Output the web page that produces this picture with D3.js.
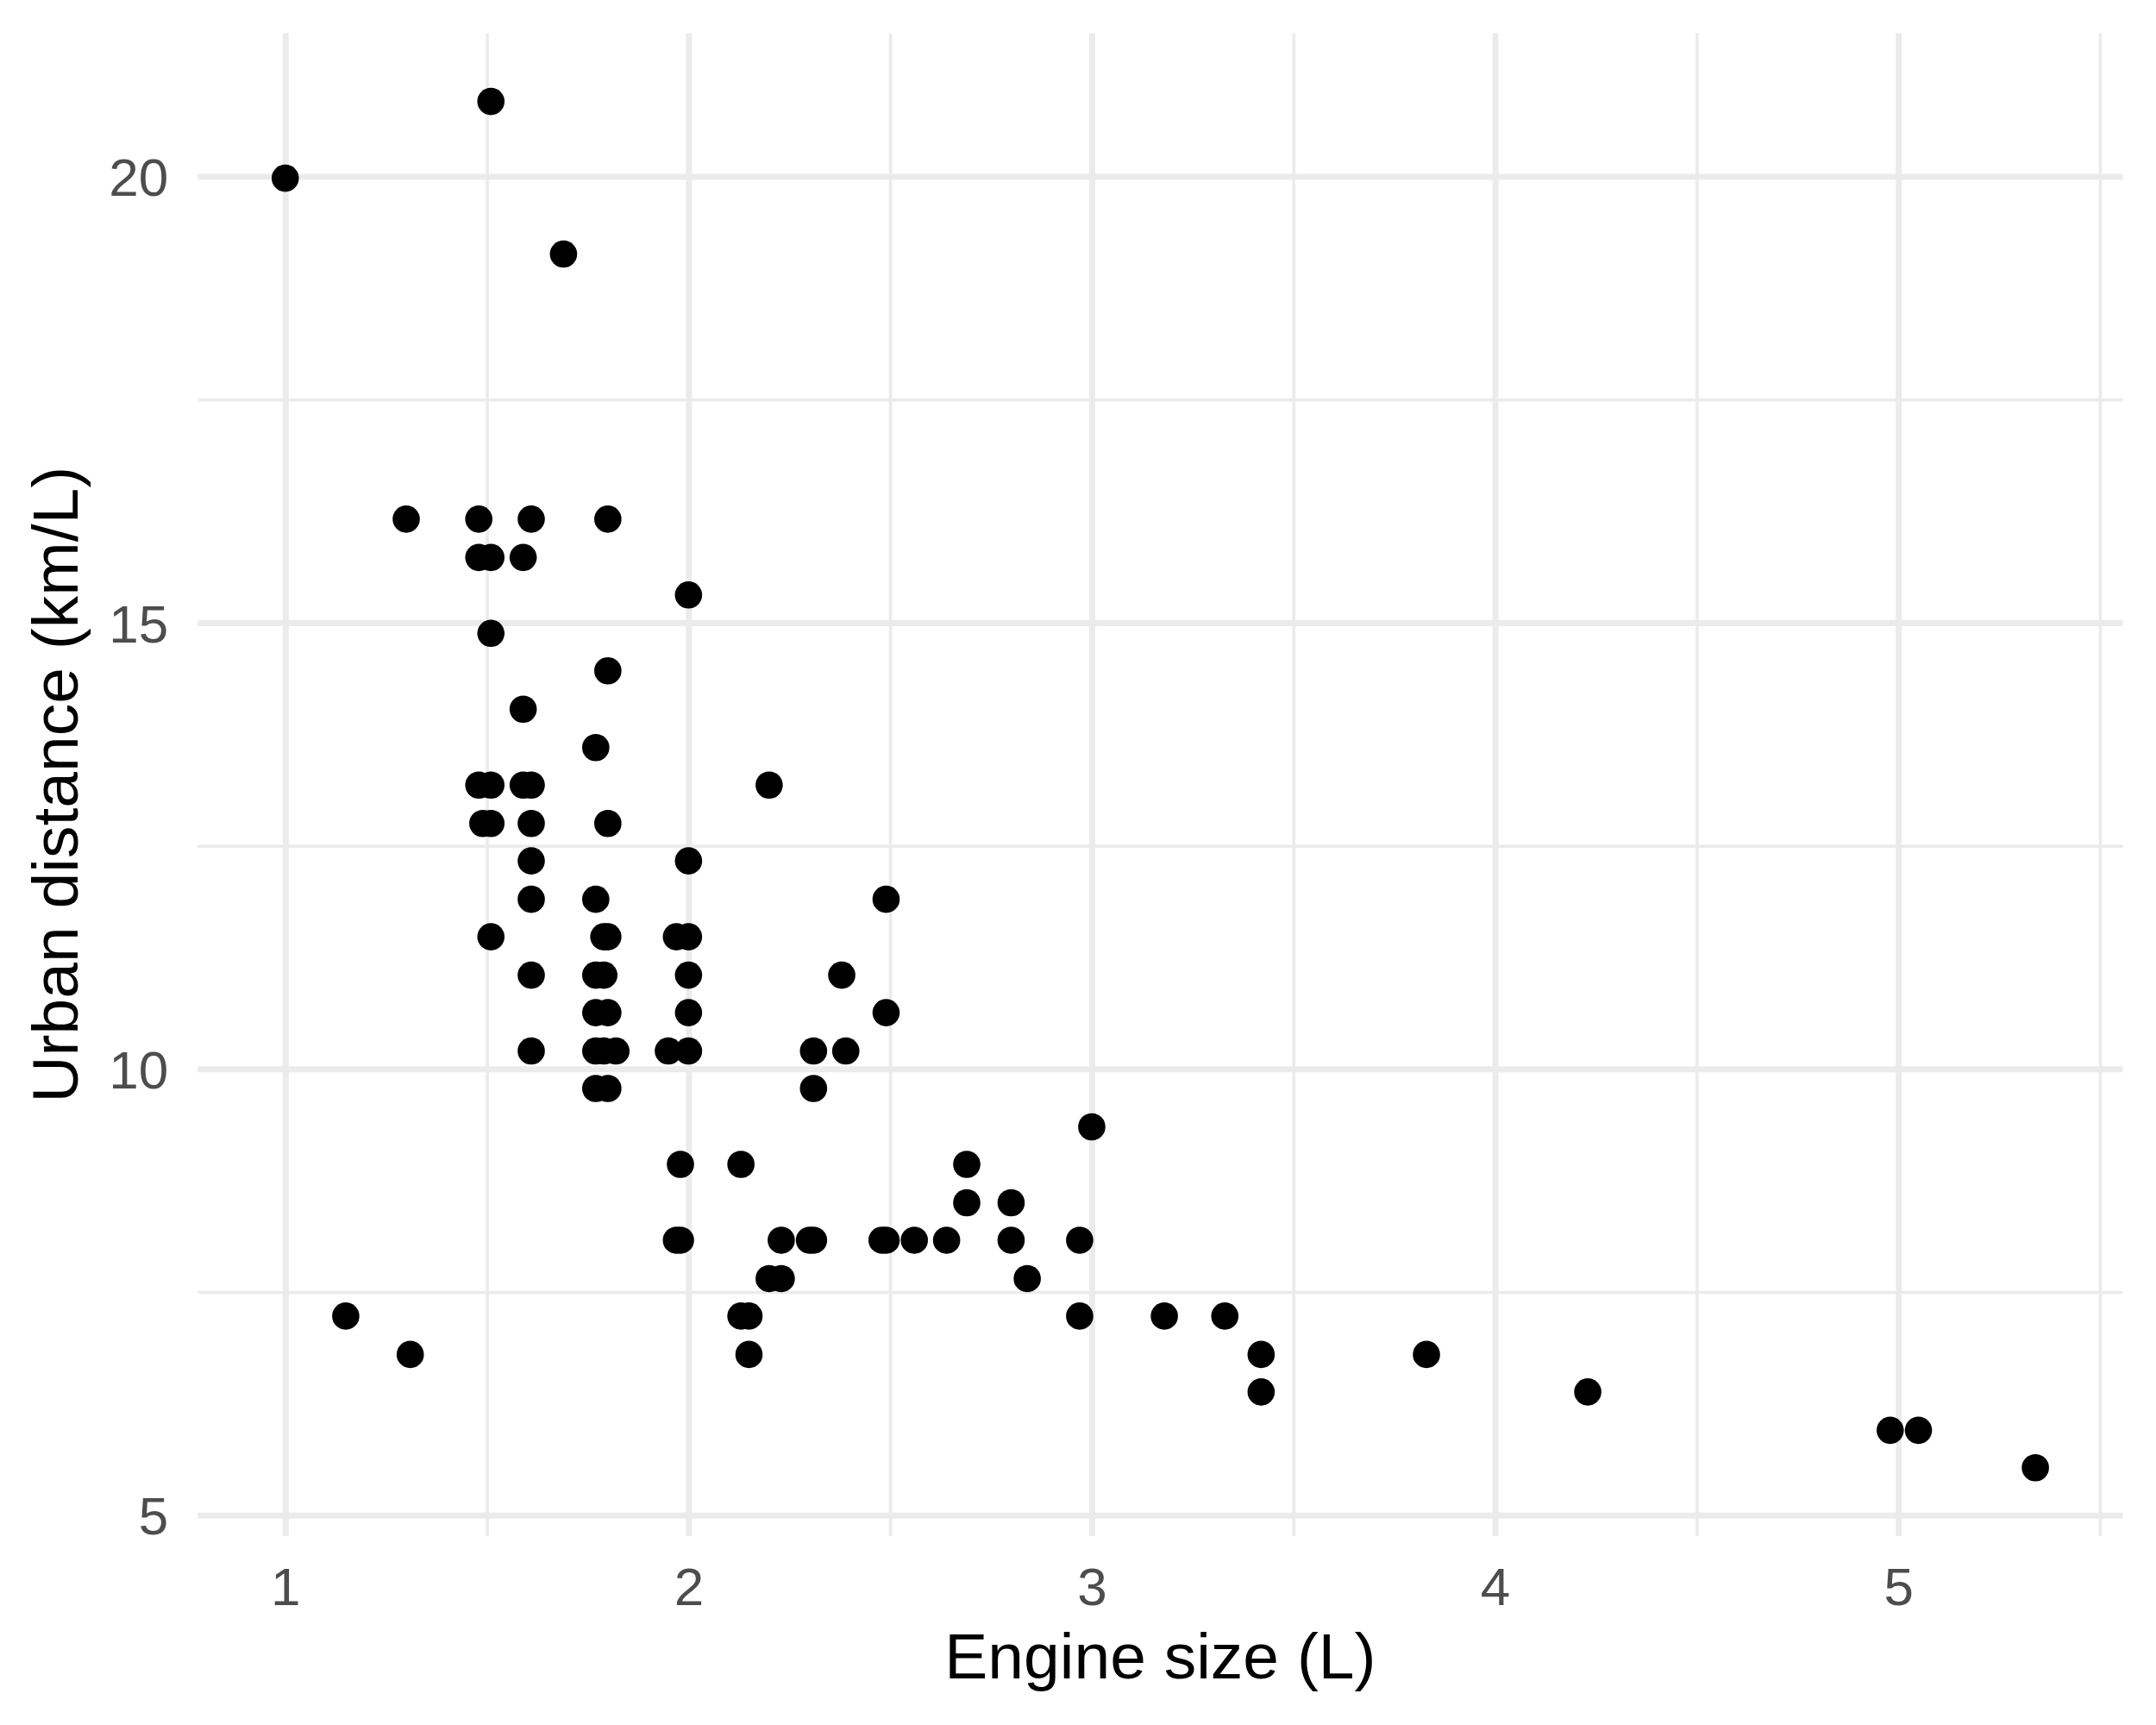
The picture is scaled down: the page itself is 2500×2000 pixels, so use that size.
<!DOCTYPE html>
<html>
<head>
<meta charset="utf-8">
<script src="https://cdn.jsdelivr.net/npm/d3@7"></script>
<style>
  html, body { margin: 0; padding: 0; background: #ffffff; }
  svg { display: block; }
</style>
</head>
<body>
<svg id="chart" width="2500" height="2000"></svg>
<script>
// ---- data ----
const engineSize = [
  1.00, 1.15, 1.30, 1.31,
  1.48, 1.48, 1.51, 1.51, 1.51, 1.48, 1.51, 1.49, 1.51, 1.51,
  1.61, 1.59, 1.59, 1.59, 1.61, 1.61, 1.61, 1.61, 1.61, 1.61,
  1.69,
  1.80, 1.80, 1.77, 1.80, 1.77, 1.79, 1.80, 1.77, 1.79, 1.77, 1.80,
  1.77, 1.79, 1.82, 1.77, 1.80,
  2.00, 2.00, 1.97, 2.00, 2.00, 2.00, 1.95, 2.00, 1.98, 1.97, 1.98,
  2.20, 2.13, 2.23, 2.20, 2.23, 2.13, 2.15, 2.15,
  2.49, 2.38, 2.49, 2.31, 2.39, 2.31, 2.30, 2.31, 2.48, 2.49, 2.56, 2.64,
  2.69, 2.69, 2.80, 2.80, 2.84, 2.97, 2.97, 3.00,
  3.18, 3.33, 3.42, 3.42, 3.83, 4.23, 4.98, 5.05, 5.34
];
const urbanKmL = [
  19.98, 7.23, 16.16, 6.80,
  16.16, 15.73, 15.73, 20.84, 14.88, 13.18, 13.18, 12.75, 12.75, 11.48,
  16.16, 15.73, 14.03, 13.18, 13.18, 12.75, 12.33, 11.90, 11.05, 10.20,
  19.13,
  16.16, 14.46, 13.60, 12.75, 11.90, 11.48, 11.48, 11.05, 11.05, 10.63, 10.63,
  10.20, 10.20, 10.20, 9.78, 9.78,
  15.31, 12.33, 11.48, 11.48, 11.05, 10.63, 10.20, 10.20, 8.93, 8.08, 8.08,
  13.18, 8.93, 8.08, 7.65, 7.65, 7.23, 7.23, 6.80,
  11.90, 11.05, 10.63, 10.20, 10.20, 9.78, 8.08, 8.08, 8.08, 8.08, 8.08, 8.08,
  8.93, 8.50, 8.50, 8.08, 7.65, 8.08, 7.23, 9.35,
  7.23, 7.23, 6.80, 6.38, 6.80, 6.38, 5.95, 5.95, 5.53
];
const xTicks = [1, 2, 3, 4, 5];
const xMinorTicks = [1.5, 2.5, 3.5, 4.5, 5.5];
const yTicks = [5, 10, 15, 20];
const yMinorTicks = [7.5, 12.5, 17.5];
const xTitle = "Engine size (L)";
const yTitle = "Urban distance (km/L)";

// ---- layout ----
const panel = { left: 229.3, right: 2461.6, top: 38.4, bottom: 1781 };
const svg = d3.select("#chart");
svg.append("rect").attr("width", 2500).attr("height", 2000).attr("fill", "#ffffff");

const points = engineSize.map((x, i) => ({ x, y: urbanKmL[i] }));

function expand(ext, f) {
  const pad = (ext[1] - ext[0]) * f;
  return [ext[0] - pad, ext[1] + pad];
}
const x = d3.scaleLinear()
  .domain(expand(d3.extent(engineSize), 0.05))
  .range([panel.left, panel.right]);
const y = d3.scaleLinear()
  .domain(expand(d3.extent(urbanKmL), 0.05))
  .range([panel.bottom, panel.top]);

const pw = panel.right - panel.left;
const ph = panel.bottom - panel.top;
const gridColor = "#EBEBEB";
const font = "'Liberation Sans', Arial, Helvetica, sans-serif";

function styleGrid(g, w) {
  g.select(".domain").remove();
  g.selectAll(".tick line").attr("stroke", gridColor).attr("stroke-width", w);
  g.selectAll(".tick text").remove();
}

// minor grid
svg.append("g")
  .attr("transform", `translate(0,${panel.bottom})`)
  .call(d3.axisBottom(x).tickValues(xMinorTicks).tickSize(-ph).tickSizeOuter(0).tickFormat(""))
  .call(g => styleGrid(g, 3.6));
svg.append("g")
  .attr("transform", `translate(${panel.left},0)`)
  .call(d3.axisLeft(y).tickValues(yMinorTicks).tickSize(-pw).tickSizeOuter(0).tickFormat(""))
  .call(g => styleGrid(g, 3.6));
// major grid
svg.append("g")
  .attr("transform", `translate(0,${panel.bottom})`)
  .call(d3.axisBottom(x).tickValues(xTicks).tickSize(-ph).tickSizeOuter(0).tickFormat(""))
  .call(g => styleGrid(g, 7));
svg.append("g")
  .attr("transform", `translate(${panel.left},0)`)
  .call(d3.axisLeft(y).tickValues(yTicks).tickSize(-pw).tickSizeOuter(0).tickFormat(""))
  .call(g => styleGrid(g, 7));

// tick labels
svg.append("g")
  .attr("transform", `translate(0,${panel.bottom})`)
  .call(d3.axisBottom(x).tickValues(xTicks).tickSize(0).tickPadding(36).tickFormat(d3.format("d")))
  .call(g => {
    g.select(".domain").remove();
    g.selectAll(".tick line").remove();
    g.selectAll(".tick text")
      .attr("font-family", font).attr("font-size", 62).attr("fill", "#4D4D4D");
  });
svg.append("g")
  .attr("transform", `translate(${panel.left},0)`)
  .call(d3.axisLeft(y).tickValues(yTicks).tickSize(0).tickPadding(34).tickFormat(d3.format("d")))
  .call(g => {
    g.select(".domain").remove();
    g.selectAll(".tick line").remove();
    g.selectAll(".tick text")
      .attr("font-family", font).attr("font-size", 62).attr("fill", "#4D4D4D")
      .attr("dy", "0.36em");
  });

// points
svg.append("g")
  .selectAll("circle")
  .data(points)
  .join("circle")
  .attr("cx", d => x(d.x))
  .attr("cy", d => y(d.y))
  .attr("r", 15.8)
  .attr("fill", "#000000");

// axis titles
svg.append("text")
  .attr("x", (panel.left + panel.right) / 2)
  .attr("y", 1946)
  .attr("text-anchor", "middle")
  .attr("font-family", font)
  .attr("font-size", 75)
  .attr("fill", "#000000")
  .text(xTitle);
svg.append("text")
  .attr("transform", `translate(90,${(panel.top + panel.bottom) / 2}) rotate(-90)`)
  .attr("text-anchor", "middle")
  .attr("font-family", font)
  .attr("font-size", 75)
  .attr("fill", "#000000")
  .text(yTitle);
</script>
</body>
</html>
